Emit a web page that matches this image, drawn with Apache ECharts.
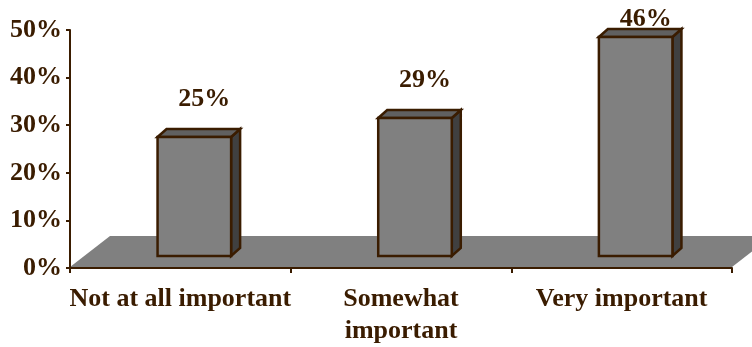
<!DOCTYPE html>
<html>
<head>
<meta charset="utf-8">
<script src="https://cdn.jsdelivr.net/npm/echarts@6/dist/echarts.min.js"></script>
<style>
  html, body { margin: 0; padding: 0; background: #ffffff; }
  #chart { width: 752px; height: 347px; }
</style>
</head>
<body>
<div id="chart"></div>
<script>
// Survey answers and their shares (percent)
const categories = ['Not at all important', 'Somewhat\nimportant', 'Very important'];
const shares = [25, 29, 46];
const yTicks = { min: 0, max: 50, step: 10 };

// Look of the pseudo-3D columns
const INK = '#3a1c00';
const FRONT = '#808080';
const TOP = '#606060';
const SIDE = '#404040';
const FLOOR = '#808080';
const FONT = 'Liberation Serif';
const DEPTH_X = 9, DEPTH_Y = 8;      // column depth
const SHIFT_X = 14, LIFT = 12;       // columns stand in the middle of the floor
const FLOOR_X = 40, FLOOR_Y = 31;    // floor depth

const chart = echarts.init(document.getElementById('chart'), null, { renderer: 'canvas' });

function renderFloor(params, api) {
  const cs = params.coordSys;
  const yb = cs.y + cs.height - 1;
  return {
    type: 'polygon',
    shape: { points: [
      [cs.x, yb], [cs.x + cs.width, yb],
      [cs.x + cs.width + FLOOR_X, yb - FLOOR_Y], [cs.x + FLOOR_X, yb - FLOOR_Y]
    ] },
    style: { fill: FLOOR, stroke: null }
  };
}

function renderColumn(params, api) {
  const cat = api.value(0);
  const v = api.value(1);
  const top = api.coord([cat, v]);
  const base = api.coord([cat, 0]);
  const band = api.size([1, 0])[0];
  const w = band / 3;
  const cx = top[0] + SHIFT_X;
  const x0 = cx - w / 2, x1 = cx + w / 2;
  const yT = top[1] - LIFT, yB = base[1] - LIFT;
  const edge = { stroke: INK, lineWidth: 2.5, lineJoin: 'miter' };
  const labelY = Math.max(yT - 38, params.coordSys.y - 11);
  return {
    type: 'group',
    children: [
      { type: 'polygon', shape: { points: [[x1, yT], [x1 + DEPTH_X, yT - DEPTH_Y], [x1 + DEPTH_X, yB - DEPTH_Y], [x1, yB]] },
        style: Object.assign({ fill: SIDE }, edge) },
      { type: 'polygon', shape: { points: [[x0, yT], [x0 + DEPTH_X, yT - DEPTH_Y], [x1 + DEPTH_X, yT - DEPTH_Y], [x1, yT]] },
        style: Object.assign({ fill: TOP }, edge) },
      { type: 'rect', shape: { x: x0, y: yT, width: w, height: yB - yT },
        style: Object.assign({ fill: FRONT }, edge) },
      { type: 'text', z2: 10,
        style: { text: v + '%', x: cx + 10, y: labelY, align: 'center', verticalAlign: 'middle',
                 fill: INK, fontFamily: FONT, fontWeight: 'bold', fontSize: 26 } }
    ]
  };
}

chart.setOption({
  animation: false,
  backgroundColor: '#ffffff',
  grid: { left: 70, right: 20, top: 30, bottom: 75, containLabel: false },
  xAxis: {
    type: 'category',
    data: categories,
    z: 5,
    axisLine: { show: true, lineStyle: { color: INK, width: 2 } },
    axisTick: { show: true, length: 5, lineStyle: { color: INK, width: 2 } },
    axisLabel: { interval: 0, margin: 15, color: INK, fontFamily: FONT, fontWeight: 'bold', fontSize: 26, lineHeight: 32 },
    splitLine: { show: false }
  },
  yAxis: {
    type: 'value',
    min: yTicks.min, max: yTicks.max, interval: yTicks.step,
    z: 5,
    axisLine: { show: true, lineStyle: { color: INK, width: 2 } },
    axisTick: { show: true, length: 4, lineStyle: { color: INK, width: 2 } },
    axisLabel: { margin: 8, formatter: '{value}%', color: INK, fontFamily: FONT, fontWeight: 'bold', fontSize: 26 },
    splitLine: { show: false }
  },
  series: [
    { type: 'custom', renderItem: renderFloor, data: [[0, 0]], z: 1, silent: true },
    { type: 'custom', renderItem: renderColumn, data: shares.map((v, i) => [i, v]), encode: { x: 0, y: 1 }, z: 2 }
  ]
});
</script>
</body>
</html>
